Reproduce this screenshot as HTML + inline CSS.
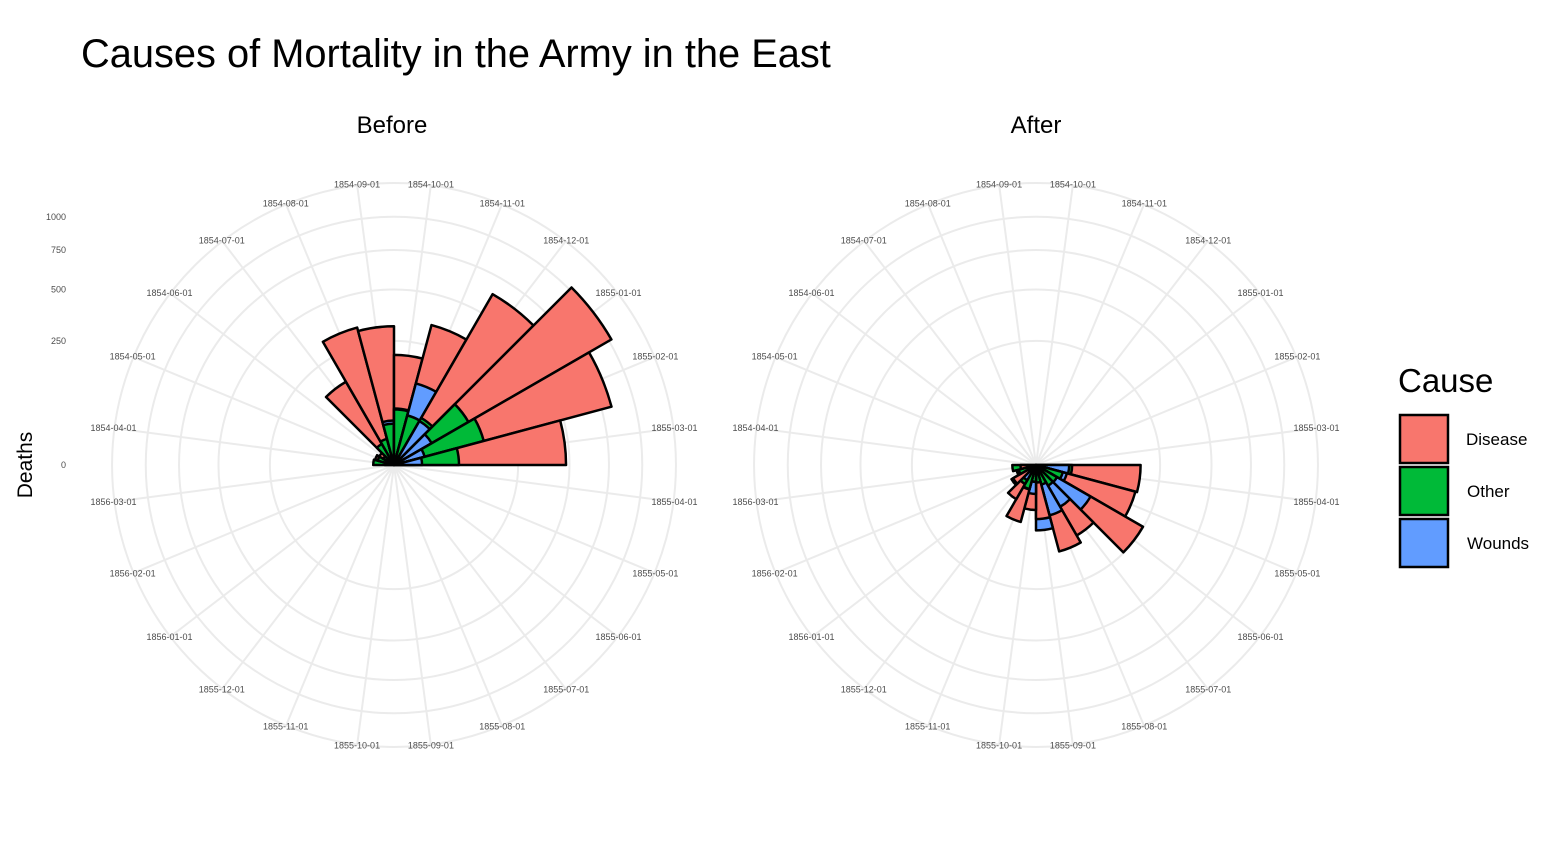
<!DOCTYPE html>
<html><head><meta charset="utf-8"><style>
body{margin:0;background:#fff;}
svg{display:block;font-family:"Liberation Sans",sans-serif;}
</style></head><body>
<svg id="chart" width="1566" height="864">
<text x="81" y="67" font-size="39.8" fill="#000">Causes of Mortality in the Army in the East</text>
<text x="392" y="133" font-size="24" text-anchor="middle">Before</text>
<text x="1036" y="133" font-size="24" text-anchor="middle">After</text>
<text transform="translate(32,465) rotate(-90)" font-size="21" text-anchor="middle">Deaths</text>
<g id="yticks"></g>
<g id="panels"></g>
<g>
<text x="1398" y="392" font-size="33">Cause</text>
<rect x="1400" y="415" width="48" height="48" fill="#F8766D" stroke="#000" stroke-width="2.5"/>
<text x="1466" y="445" font-size="17">Disease</text>
<rect x="1400" y="467" width="48" height="48" fill="#00BA38" stroke="#000" stroke-width="2.5"/>
<text x="1467" y="497" font-size="17">Other</text>
<rect x="1400" y="519" width="48" height="48" fill="#619CFF" stroke="#000" stroke-width="2.5"/>
<text x="1467" y="549" font-size="17">Wounds</text>
</g>
</svg>
<script>
const months = ["1854-04-01","1854-05-01","1854-06-01","1854-07-01","1854-08-01","1854-09-01","1854-10-01","1854-11-01","1854-12-01","1855-01-01","1855-02-01","1855-03-01","1855-04-01","1855-05-01","1855-06-01","1855-07-01","1855-08-01","1855-09-01","1855-10-01","1855-11-01","1855-12-01","1856-01-01","1856-02-01","1856-03-01"];
const diseaseRate = [1.4,6.2,4.7,150.0,328.5,312.2,197.0,340.6,631.5,1022.8,822.8,480.3,177.5,171.8,247.6,107.5,129.9,47.5,32.8,56.4,25.3,11.4,6.6,3.9];
const woundsRate = [0.0,0.0,0.0,0.0,0.4,32.1,51.7,115.8,41.7,30.7,16.3,12.8,17.9,16.6,64.5,37.7,44.1,69.4,13.6,10.5,5.0,0.5,0.0,0.0];
const otherRate = [7.0,4.6,2.5,9.6,11.9,27.7,50.1,42.8,48.0,120.0,140.1,68.6,21.2,12.5,9.6,9.3,6.7,5.0,4.6,10.1,7.8,13.0,5.2,9.1];
const yTicks = [0,250,500,750,1000];
const gridVals = [250,500,750,1000,1290];

const NS="http://www.w3.org/2000/svg";
const K=7.85;
function rScale(v){return K*Math.sqrt(v);}
function angOf(i){return (-82.5+15*i)*Math.PI/180;} // from top, clockwise
function pt(cx,cy,r,a){return [cx+r*Math.sin(a), cy-r*Math.cos(a)];}
function mk(tag,attrs,parent){const e=document.createElementNS(NS,tag);for(const k in attrs)e.setAttribute(k,attrs[k]);parent.appendChild(e);return e;}

const yt=document.getElementById('yticks');
yTicks.forEach(v=>{
  const t=mk('text',{x:66,y:465-rScale(v)+3,'font-size':9,fill:'#4d4d4d','text-anchor':'end'},yt);
  
  
  t.textContent=v;
});

const panels=document.getElementById('panels');
function drawPanel(cx,cy,start,end,name){
  const g=mk('g',{},panels);
  
  
  gridVals.forEach(v=>{
    const c=mk('circle',{cx:cx,cy:cy,r:rScale(v),fill:'none',stroke:'#ebebeb','stroke-width':2},g);
    
    
  });
  const R=rScale(1290);
  months.forEach((m,i)=>{
    const a=angOf(i);const p=pt(cx,cy,R,a);
    const l=mk('line',{x1:cx,y1:cy,x2:p[0],y2:p[1],stroke:'#ebebeb','stroke-width':2},g);
    
    
    const q=pt(cx,cy,R+1,a);
    const t=mk('text',{x:q[0],y:q[1]+3,'font-size':9,fill:'#4d4d4d','text-anchor':'middle'},g);
    
    
    t.textContent=m;
  });
  for(let i=start;i<=end;i++){
    const a=angOf(i);const a0=a-7.5*Math.PI/180,a1=a+7.5*Math.PI/180;
    const items=[["disease",diseaseRate[i],"#F8766D"],["wounds",woundsRate[i],"#619CFF"],["other",otherRate[i],"#00BA38"]];
    items.sort((x,y)=>y[1]-x[1]);
    items.forEach(it=>{
      const r=rScale(it[1]);
      const p0=pt(cx,cy,r,a0),p1=pt(cx,cy,r,a1);
      const w=mk('path',{d:`M${cx},${cy}L${p0[0]},${p0[1]}A${r},${r} 0 0 1 ${p1[0]},${p1[1]}Z`,fill:it[2],stroke:'#000','stroke-width':2.5,'stroke-linejoin':'round'},g);
      
      
    });
  }
}
drawPanel(394,465,0,11,'panel-before');
drawPanel(1036,465,12,23,'panel-after');
</script>
</body></html>
